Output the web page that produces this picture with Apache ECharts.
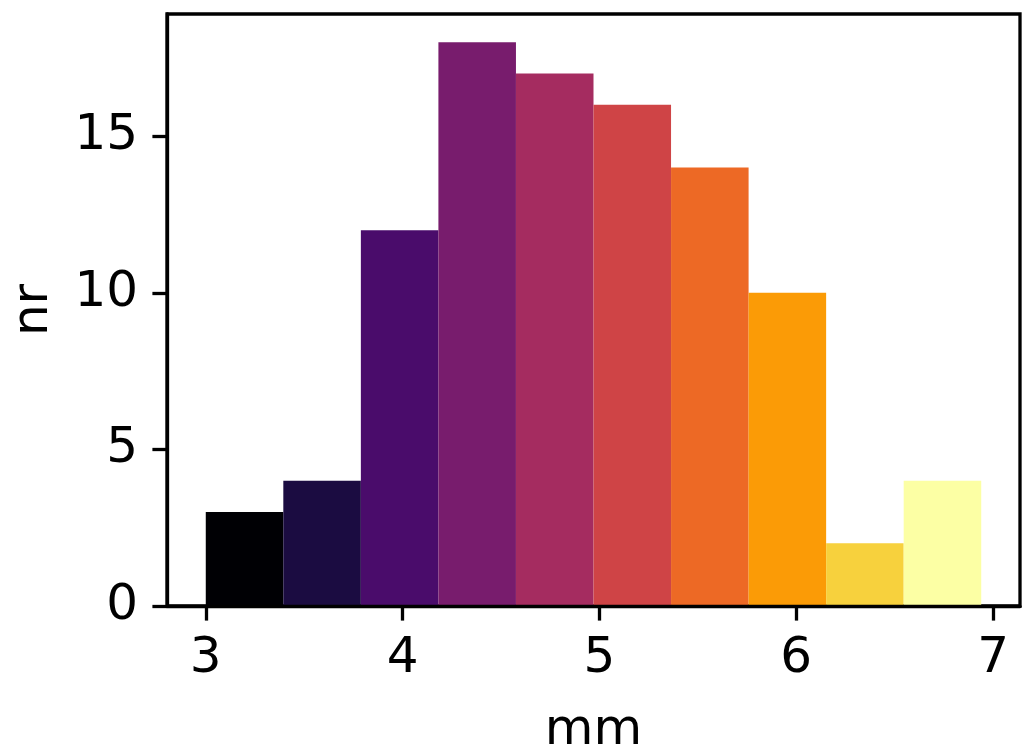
<!DOCTYPE html>
<html>
<head>
<meta charset="utf-8">
<script src="https://cdn.jsdelivr.net/npm/echarts@6/dist/echarts.min.js"></script>
<style>html,body{margin:0;padding:0;background:#fff;}#chart{width:1026px;height:748px;}</style>
</head>
<body>
<div id="chart"></div>
<script>
// Histogram bin edges (mm) and counts (nr)
const binEdges = [3.000, 3.394, 3.788, 4.182, 4.576, 4.970, 5.364, 5.758, 6.152, 6.546, 6.940];
const counts = [3, 4, 12, 18, 17, 16, 14, 10, 2, 4];
const binColors = ['#000004', '#1b0c41', '#4a0c6b', '#781c6d', '#a52c60', '#cf4446', '#ed6925', '#fb9b06', '#f7d13d', '#fcffa4'];
const xTicks = [3, 4, 5, 6, 7];
const yTicks = [0, 5, 10, 15];
const xLabel = 'mm';
const yLabel = 'nr';

const data = counts.map((c, i) => [binEdges[i], binEdges[i + 1], c]);
const span = binEdges[binEdges.length - 1] - binEdges[0];
const xMin = binEdges[0] - span * 0.05;
const xMax = binEdges[binEdges.length - 1] + span * 0.05;
const yMax = Math.max(...counts) * 1.05;

const font = 'DejaVu Sans';
const fs = 50;
const chart = echarts.init(document.getElementById('chart'), null, {renderer: 'canvas'});
chart.setOption({
  animation: false,
  backgroundColor: '#fff',
  grid: {left: 167, right: 6, top: 14, bottom: 142, containLabel: false, outerBoundsMode: 'none', show: true, borderColor: '#000', borderWidth: 3.3, backgroundColor: 'transparent'},
  xAxis: {
    type: 'value', min: xMin, max: xMax, z: 10,
    name: xLabel, nameLocation: 'middle', nameGap: 100,
    nameTextStyle: {fontFamily: font, fontSize: fs, color: '#000'},
    axisLine: {show: true, onZero: false, lineStyle: {color: '#000', width: 3.3}},
    axisTick: {show: true, length: 14.6, lineStyle: {color: '#000', width: 3.3}, customValues: xTicks},
    axisLabel: {fontFamily: font, fontSize: fs, color: '#000', margin: 28, customValues: xTicks},
    splitLine: {show: false}
  },
  yAxis: {
    type: 'value', min: 0, max: yMax, z: 10,
    name: yLabel, nameLocation: 'middle', nameGap: 108, nameRotate: 90,
    nameTextStyle: {fontFamily: font, fontSize: fs, color: '#000'},
    axisLine: {show: true, lineStyle: {color: '#000', width: 3.3}},
    axisTick: {show: true, length: 14.6, lineStyle: {color: '#000', width: 3.3}, customValues: yTicks},
    axisLabel: {fontFamily: font, fontSize: fs, color: '#000', margin: 29, customValues: yTicks},
    splitLine: {show: false}
  },
  series: [{
    type: 'custom',
    data: data,
    encode: {x: [0, 1], y: 2},
    renderItem: function (params, api) {
      const p0 = api.coord([api.value(0), api.value(2)]);
      const p1 = api.coord([api.value(1), 0]);
      return {
        type: 'rect',
        shape: {x: p0[0], y: p0[1], width: p1[0] - p0[0], height: p1[1] - p0[1]},
        style: {fill: binColors[params.dataIndex]}
      };
    }
  }]
});
</script>
</body>
</html>
